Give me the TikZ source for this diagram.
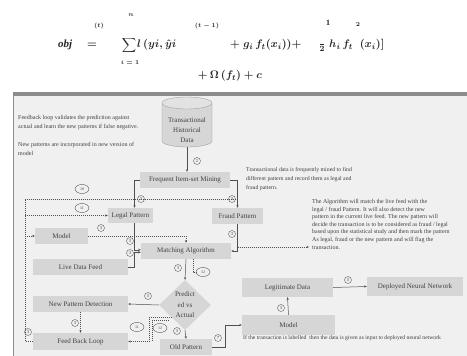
\documentclass[tikz,border=0pt]{standalone}
\usepackage{fontspec}
\setmainfont{Liberation Serif}
\usetikzlibrary{shapes.geometric,arrows.meta,calc}
\definecolor{panel}{HTML}{F0F0F0}
\definecolor{boxg}{HTML}{D6D6D6}
\definecolor{cyltop}{HTML}{E2E2E2}
\definecolor{txt}{HTML}{404040}
\definecolor{ln}{HTML}{505050}
\definecolor{bar}{HTML}{8C8C8C}
\begin{document}
\begin{tikzpicture}[x=1pt,y=-1pt,
 stepbox/.style={fill=boxg, draw=none, text=txt, font=\fontsize{7}{8}\selectfont, inner sep=0pt},
 arr/.style={draw=ln, line width=0.5pt, -{Stealth[length=2.6pt,width=2.2pt]}},
 plain/.style={draw=ln, line width=0.5pt},
 dotl/.style={draw=ln, line width=0.45pt, dash pattern=on 1pt off 1pt},
 dotarr/.style={dotl, -{Stealth[length=2.6pt,width=2.2pt]}},
 num/.style={circle, draw=ln, line width=0.35pt, inner sep=0pt, minimum size=7pt, font=\fontsize{4.5}{4.5}\selectfont, text=txt},
 ov/.style={ellipse, draw=ln, line width=0.4pt, minimum width=14pt, minimum height=9pt, inner sep=0pt, font=\fontsize{4}{4}\selectfont, text=txt},
 note/.style={text=txt, font=\fontsize{6}{7.6}\selectfont, align=left, inner sep=0pt, anchor=north west},
 fm/.style={inner sep=0pt, text=black!85, font=\fontsize{11}{12}\selectfont\boldmath},
 fs/.style={inner sep=0pt, text=black!85, font=\fontsize{6}{6}\selectfont\boldmath}
]
\useasboundingbox (0,0) rectangle (467,356);
\fill[white] (0,0) rectangle (467,356);

% ---------- formula ----------
\node[fm, anchor=west, font=\fontsize{11}{12}\selectfont\bfseries\itshape] (f1) at (58,45) {obj};
\node[fs] (f2) at (99,26) {$(t)$};
\node[fm] (f3) at (92,45) {$=$};
\node[fm] (f4) at (129,45) {$\displaystyle\sum$};
\node[fs] (f5) at (131,15) {$n$};
\node[fs] (f6) at (130,62) {$i=1$};
\node[fm, anchor=west] (f7) at (137,45) {$l\,(yi,\hat{y}i$};
\node[fs] (f8) at (207,26) {$(t-1)$};
\node[fm, anchor=west] (f9) at (230,45) {$+\;g_i\,f_t(x_i))+$};
\node[fs, font=\fontsize{8}{8}\selectfont\bfseries] (f10) at (328,23) {1};
\node[fm] (f11) at (322,47) {$\frac{\;}{2}$};
\node[fm, anchor=west] (f12) at (329,45) {$h_i\,f_t\;\;(x_i)]$};
\node[fs] (f13) at (358,25) {$2$};
\node[fm] (f14) at (230,76) {$+\,\Omega\,(f_t)+c$};

% ---------- panel ----------
\fill[panel] (13,95) rectangle (467,356);
\fill[bar] (13,92) rectangle (467,95.5);
\draw[bar, line width=0.8pt] (13.4,92) -- (13.4,356);

% ---------- cylinder ----------
\fill[boxg] (162,103) -- (162,141) arc[start angle=180,end angle=360,x radius=25,y radius=-6] -- (212,103) -- cycle;
\draw[ln!60, line width=0.3pt] (162,103) -- (162,141) arc[start angle=180,end angle=360,x radius=25,y radius=-6] -- (212,103);
\filldraw[fill=cyltop, draw=ln!60, line width=0.3pt] (187,103) ellipse[x radius=25, y radius=6];
\node[inner sep=0pt, minimum width=50pt, minimum height=50pt] (cyl) at (187,122) {};
\node[text=txt, font=\fontsize{7}{10}\selectfont, align=center, inner sep=0pt] (cyltxt) at (187,130) {Transactional\\Historical\\Data};

% ---------- boxes ----------
\node[stepbox, minimum width=90pt, minimum height=16pt] (fim) at (185,180) {Frequent Item-set Mining};
\node[stepbox, minimum width=45pt, minimum height=15pt] (legal) at (130.5,215.5) {Legal Pattern};
\node[stepbox, minimum width=51pt, minimum height=16pt] (fraud) at (237.5,216) {Fraud Pattern};
\node[stepbox, minimum width=53pt, minimum height=16pt] (model) at (61.5,236) {Model};
\node[stepbox, minimum width=95pt, minimum height=16pt] (ldf) at (80.5,267) {Live Data Feed};
\node[stepbox, minimum width=90pt, minimum height=16pt] (ma) at (186,251) {Matching Algorithm};
\node[stepbox, minimum width=95pt, minimum height=16pt] (npd) at (80.5,304) {New Pattern Detection};
\node[stepbox, minimum width=95pt, minimum height=17pt] (fbl) at (80.5,341.5) {Feed Back Loop};
\node[stepbox, diamond, minimum width=52pt, minimum height=50pt, align=center, font=\fontsize{7}{10.5}\selectfont] (pva) at (185,305) {Predict\\ed vs\\Actual};
\node[stepbox, minimum width=52pt, minimum height=16pt] (old) at (186,347) {Old Pattern};
\node[stepbox, minimum width=93pt, minimum height=20pt] (model2) at (288.5,325) {Model};
\node[stepbox, minimum width=91pt, minimum height=19pt] (legit) at (287.5,287.5) {Legitimate Data};
\node[stepbox, minimum width=96pt, minimum height=19pt] (dnn) at (415,286.5) {Deployed Neural Network};

% ---------- notes ----------
\node[note, font=\fontsize{6}{9.5}\selectfont] (n1) at (18,115) {Feedback loop validates the prediction against\\actual and learn the new patterns if false negative.};
\node[note, font=\fontsize{6}{9.5}\selectfont] (n2) at (18,142) {New patterns are incorporated in new version of\\model};
\node[note, font=\fontsize{5.8}{9}\selectfont] (n3) at (246,167) {Transactional data is frequently mined to find\\different pattern and record them as legal and\\fraud pattern.};
\node[note] (n4) at (312,199) {The Algorithm will match the live feed with the\\legal / fraud Pattern. It will also detect the new\\pattern in the current live feed. The new pattern will\\decide the transaction is to be considered as fraud / legal\\based upon the statistical study and then mark the pattern\\As legal, fraud or the new pattern and will flag the\\transaction.};
\node[note, font=\fontsize{5.7}{7}\selectfont] (n5) at (243,335) {If the transaction is labelled\ \ then the data is given as input to deployed neural network};

% ---------- connectors ----------
\coordinate (L1) at (25,199);
\coordinate (ta) at (309,247);
\draw[arr] (cyl.south) -- (cyl.south |- fim.north);
\draw[arr] (fim.west) -| ([xshift=4pt]legal.north);
\draw[arr] (fim.east) -| (fraud.north);
\draw[dotl] (fbl.west) -| (L1) -- (L1 -| fraud.north);
\draw[dotarr] (L1 |- legal.west) -- (legal.west);
\draw[dotarr] (L1 |- model.west) -- (model.west);
\draw[dotarr] (model.east) -| (ma.north);
\draw[arr] ([xshift=4pt]legal.south) |- ([yshift=1.2pt]ma.west);
\draw[arr] (ldf.east) -- ++(6.5,0) |- ([yshift=-1.2pt]ma.west);
\draw[arr] (fraud.south) |- (ma.east);
\draw[dotarr] (fraud.south |- ta) -- (ta);
\draw[arr] (ma.south) -- (pva.north);
\draw[dotl] ([xshift=7pt]ma.south) -- ++(0,13) -- ++(5,0);
\draw[arr] (pva.west) -- (npd.east);
\draw[dotarr] (npd.south) -- (fbl.north);
\draw[arr] (pva.south) -- (old.north);
\draw[dotarr] (pva.south west) -- ++(-23,0) |- (fbl.east);
\draw[dotl] ([xshift=-3pt,yshift=-3pt]pva.south west) -- ++(-17,0) -- ++(0,20);
\draw[arr] (old.east) -- ++(13,0) |- (model2.west);
\draw[arr] (model2.north) -- (legit.south);
\draw[arr] (legit.east) -- (dnn.west);

% ---------- labels ----------
\node[num] (c1) at (197,161) {2};
\node[num] (c2) at (141,199) {3};
\node[num] (c3) at (232,199) {3};
\node[num] (c4) at (101,228) {3};
\node[num] (c5) at (130,241) {3};
\node[num] (c6) at (130,253) {3};
\node[num] (c7) at (232,234) {3};
\node[num] (c8) at (178,268) {3};
\node[num] (c9) at (148,296) {3};
\node[num] (c10) at (75,323) {3};
\node[num] (c11) at (28,332) {3};
\node[num] (c12) at (177,331) {3};
\node[num] (c13) at (218,338) {7};
\node[num] (c14) at (281,308) {3};
\node[num] (c15) at (348,280) {3};
\node[ov] (o1) at (82,189) {10};
\node[ov] (o2) at (82,208) {11};
\node[ov] (o3) at (203,272) {12};
\node[ov] (o4) at (137,327) {11};
\node[ov] (o5) at (160,328) {12};
\end{tikzpicture}
\end{document}
